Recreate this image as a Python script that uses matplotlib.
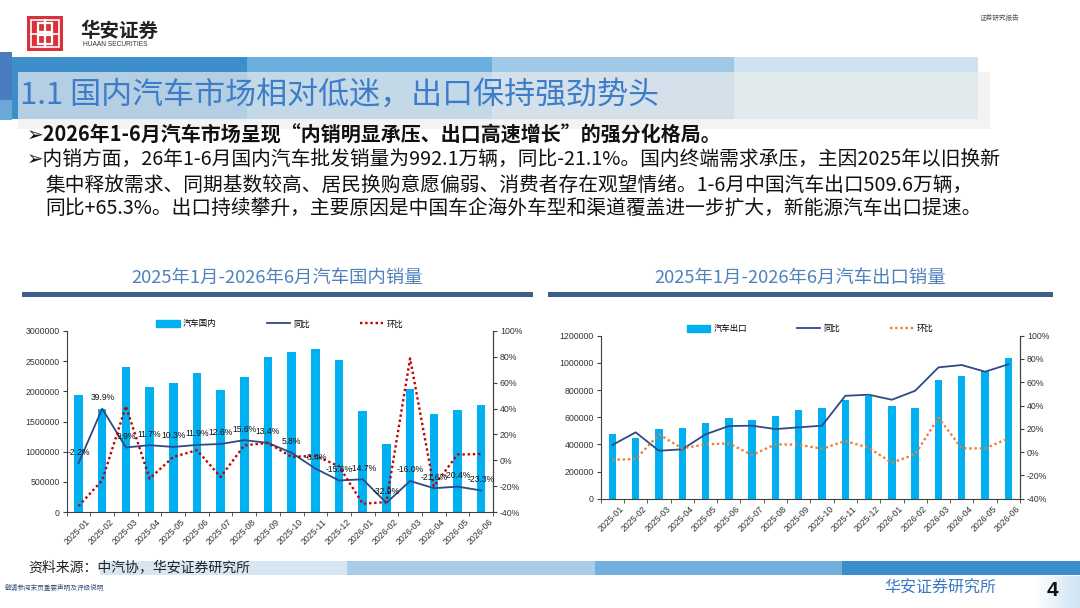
import matplotlib
matplotlib.use('Agg')
import matplotlib.pyplot as plt
import matplotlib.patches as mpatches
from matplotlib.lines import Line2D
from matplotlib.ticker import FuncFormatter, MultipleLocator, FixedLocator
import matplotlib.transforms as mtransforms
import numpy as np

plt.rcParams['font.family'] = ['Noto Sans CJK SC', 'DejaVu Sans']
plt.rcParams['axes.unicode_minus'] = False

# ---- data ----
months = ['2025-01', '2025-02', '2025-03', '2025-04', '2025-05', '2025-06',
          '2025-07', '2025-08', '2025-09', '2025-10', '2025-11', '2025-12',
          '2026-01', '2026-02', '2026-03', '2026-04', '2026-05', '2026-06']

domestic = [1940000, 1700000, 2400000, 2070000, 2137000, 2308000,
            2015000, 2236000, 2568000, 2657000, 2696000, 2518000,
            1672000, 1135000, 2031000, 1622000, 1694000, 1777000]
domestic_yoy = [-2.2, 39.9, 9.9, 11.7, 10.3, 11.9, 12.6, 15.6, 13.4,
                5.8, -6.4, -15.6, -14.7, -32.9, -16.0, -21.6, -20.4, -23.3]
domestic_mom = [-35.4, -15.5, 41.9, -14.2, 2.6, 7.8, -12.9, 11.6, 13.4,
                2.6, 3.6, -4.7, -33.6, -32.3, 78.8, -20.1, 4.4, 4.9]

export = [476000, 444000, 513000, 520000, 555000, 594000,
          579000, 609000, 653000, 667000, 726000, 753000,
          681000, 670000, 875000, 900000, 938000, 1033000]
export_yoy = [6.1, 17.0, 1.2, 2.4, 15.3, 22.4, 22.7, 19.8, 21.3,
              22.7, 48.4, 49.3, 45.0, 52.7, 72.8, 74.8, 69.1, 75.4]
export_mom = [-6.5, -6.0, 15.2, 3.2, 6.7, 7.5, -2.5, 6.7, 6.4,
              2.9, 9.5, 3.8, -9.1, -1.9, 29.6, 3.2, 3.2, 11.8]

W, H = 1080, 608
fig = plt.figure(figsize=(W / 100, H / 100), dpi=100)
fig.patch.set_facecolor('white')

# background layer in pixel coordinates
bg = fig.add_axes([0, 0, 1, 1])
bg.set_xlim(0, W)
bg.set_ylim(H, 0)
bg.axis('off')


def rect(x0, y0, x1, y1, color, alpha=1.0, z=1):
    bg.add_patch(mpatches.Rectangle((x0, y0), x1 - x0, y1 - y0, facecolor=color,
                                    edgecolor='none', alpha=alpha, zorder=z))


# logo
rect(27, 16, 63, 51, '#d8323c', z=2)
bg.add_patch(mpatches.Rectangle((31, 20), 28, 27, fill=False, edgecolor='white', lw=1.2, zorder=3))
for (a, b) in [(38, 23), (38, 35)]:
    bg.add_patch(mpatches.Rectangle((a, b), 14, 9, fill=False, edgecolor='white', lw=1.6, zorder=3))
bg.plot([45, 45], [20, 47], color='white', lw=1.6, zorder=3)
bg.plot([31, 59], [33.5, 33.5], color='white', lw=1.2, zorder=3)
bg.text(80, 31, '华安证券', fontsize=14, fontweight='bold', color='#222222', va='center', ha='left', zorder=3)
bg.text(83, 45, 'HUAAN SECURITIES', fontsize=4.8, color='#333333', va='center', ha='left',
        family=['Liberation Sans Narrow', 'Liberation Sans'], zorder=3)
bg.text(1000, 18, '证券研究报告', fontsize=4.8, color='#555555', va='center', ha='center', zorder=3)

# header bands
rect(0, 52, 12, 100, '#4a7cc0', z=1)
rect(0, 100, 12, 120, '#6aa8da', z=1)
band_cols = ['#3d8fcc', '#6aaede', '#9fc8e6', '#cfe2f1']
band_x = [12, 247, 492, 734, 978]
for i, c in enumerate(band_cols):
    rect(band_x[i], 57, band_x[i + 1], 119, c, z=1)
rect(18, 72, 990, 129, '#eeeeee', alpha=0.68, z=2)
bg.text(20, 95, '1.1 国内汽车市场相对低迷，出口保持强劲势头', fontsize=22.3, color='#3d7cc9',
        va='center', ha='left', zorder=3)

# bullets
txt_fam = ['Noto Sans CJK SC', 'DejaVu Sans']
bg.text(27, 135, '➢2026年1-6月汽车市场呈现“内销明显承压、出口高速增长”的强分化格局。',
        fontsize=14.4, fontweight='bold', color='#111111', va='center', ha='left', family=txt_fam)
bg.text(27, 160, '➢内销方面，26年1-6月国内汽车批发销量为992.1万辆，同比-21.1%。国内终端需求承压，主因2025年以旧换新',
        fontsize=14.2, color='#111111', va='center', ha='left', family=txt_fam)
bg.text(45, 185, '集中释放需求、同期基数较高、居民换购意愿偏弱、消费者存在观望情绪。1-6月中国汽车出口509.6万辆，',
        fontsize=14.2, color='#111111', va='center', ha='left', family=txt_fam)
bg.text(45, 209, '同比+65.3%。出口持续攀升，主要原因是中国车企海外车型和渠道覆盖进一步扩大，新能源汽车出口提速。',
        fontsize=14.2, color='#111111', va='center', ha='left', family=txt_fam)

# chart titles
bg.text(277, 278, '2025年1月-2026年6月汽车国内销量', fontsize=13.2, color='#4f81bd', va='center', ha='center')
bg.text(800, 278, '2025年1月-2026年6月汽车出口销量', fontsize=13.2, color='#4f81bd', va='center', ha='center')
rect(22, 292, 533, 297, '#3e5f8e', z=2)
rect(548, 292, 1053, 297, '#3e5f8e', z=2)

# footer
foot_cols = ['#d6e7f3', '#a9cde9', '#72afdc', '#3b8ccb']
foot_x = [100, 347, 595, 842, 1080]
for i, c in enumerate(foot_cols):
    rect(foot_x[i], 561, foot_x[i + 1], 575, c, z=1)
bg.text(28, 567, '资料来源：中汽协，华安证券研究所', fontsize=10, color='#222222', va='center', ha='left', zorder=3)
bg.text(5, 588, '敬请参阅末页重要声明及评级说明', fontsize=4.8, color='#35507a', va='center', ha='left')
bg.text(940, 588, '华安证券研究所', fontsize=11.5, color='#3a78c2', va='center', ha='center')
grad = np.linspace(0, 1, 50).reshape(1, -1)
bg.imshow(grad, extent=(1034, 1080, 608, 576), cmap=matplotlib.colors.LinearSegmentedColormap.from_list(
    'g', ['#ffffff', '#cfe4f4']), aspect='auto', zorder=1)
bg.set_xlim(0, W)
bg.set_ylim(H, 0)
bg.text(1052, 591, '4', fontsize=15, fontweight='bold', color='#111111', va='center', ha='center',
        family='Liberation Sans', zorder=3)

num_fam = ['Liberation Sans', 'DejaVu Sans']
x = np.arange(len(months))


def make_chart(rect_px, bars, yoy, mom, bar_label, mom_color, ymax, ystep, bar_w, labels):
    l, t, r, b = rect_px
    ax = fig.add_axes([l / W, 1 - b / H, (r - l) / W, (b - t) / H])
    ax.bar(x, bars, width=bar_w, color='#00b0f0', zorder=2)
    ax.set_xlim(-0.5, len(months) - 0.5)
    ax.set_ylim(0, ymax)
    ax.yaxis.set_major_locator(MultipleLocator(ystep))
    ax.yaxis.set_major_formatter(FuncFormatter(lambda v, p: f'{int(v)}'))
    ax.spines['top'].set_visible(False)
    for s in ['left', 'bottom', 'right']:
        ax.spines[s].set_color('#404040')
        ax.spines[s].set_linewidth(0.8)
    ax.set_xticks(x)
    ax.set_xticklabels(months, rotation=45, ha='right', rotation_mode='anchor')
    ax.xaxis.set_minor_locator(FixedLocator(np.arange(-0.5, len(months), 1)))
    ax.tick_params(axis='x', which='major', length=0, pad=4, labelsize=6.3)
    ax.tick_params(axis='x', which='minor', length=3, direction='out', color='#404040')
    ax.tick_params(axis='y', length=3, direction='out', labelsize=6.3, color='#404040', pad=2)
    offset = mtransforms.ScaledTranslation(7 / 100, 0, fig.dpi_scale_trans)
    for lab in ax.get_xticklabels():
        lab.set_transform(lab.get_transform() + offset)
        lab.set_family(num_fam)
        lab.set_color('#333333')
    for lab in ax.get_yticklabels():
        lab.set_family(num_fam)
        lab.set_color('#333333')

    ax2 = ax.twinx()
    ax2.set_ylim(-40, 100)
    ax2.yaxis.set_major_locator(MultipleLocator(20))
    ax2.yaxis.set_major_formatter(FuncFormatter(lambda v, p: f'{int(round(v))}%'))
    ax2.tick_params(axis='y', length=3, direction='out', labelsize=6.3, color='#404040', pad=2)
    for s in ['top', 'left', 'bottom']:
        ax2.spines[s].set_visible(False)
    ax2.spines['right'].set_color('#404040')
    ax2.spines['right'].set_linewidth(0.8)
    for lab in ax2.get_yticklabels():
        lab.set_family(num_fam)
        lab.set_color('#333333')
    ax2.plot(x, yoy, color='#2e4a86', lw=1.3, zorder=3)
    ax2.plot(x, mom, color=mom_color, lw=1.7, linestyle=(0, (1, 1.2)), zorder=3)
    if labels:
        for i, v in enumerate(yoy):
            ax2.annotate(f'{v:.1f}%', (i, v), xytext=(0, 8), textcoords='offset points',
                         ha='center', va='center', fontsize=6.2, family=num_fam, color='#111111', zorder=4)

    handles = [mpatches.Patch(color='#00b0f0'),
               Line2D([0], [0], color='#2e4a86', lw=1.3),
               Line2D([0], [0], color=mom_color, lw=1.7, linestyle=(0, (1, 1.2)))]
    ax.legend(handles, [bar_label, '同比', '环比'], loc='center', bbox_to_anchor=(0.5, 1.0 + 7 / (b - t)),
              ncol=3, frameon=False, fontsize=6, handlelength=2.8, handleheight=0.9,
              columnspacing=6.0, handletextpad=0.4, borderaxespad=0)
    return ax, ax2


make_chart((66.7, 331, 493, 512), domestic, domestic_yoy, domestic_mom, '汽车国内', '#c00000',
           3000000, 500000, 0.36, True)
make_chart((600.7, 335.7, 1020, 498.7), export, export_yoy, export_mom, '汽车出口', '#ed7d31',
           1200000, 200000, 0.32, False)

fig.savefig('out.png', dpi=100, facecolor='white')
